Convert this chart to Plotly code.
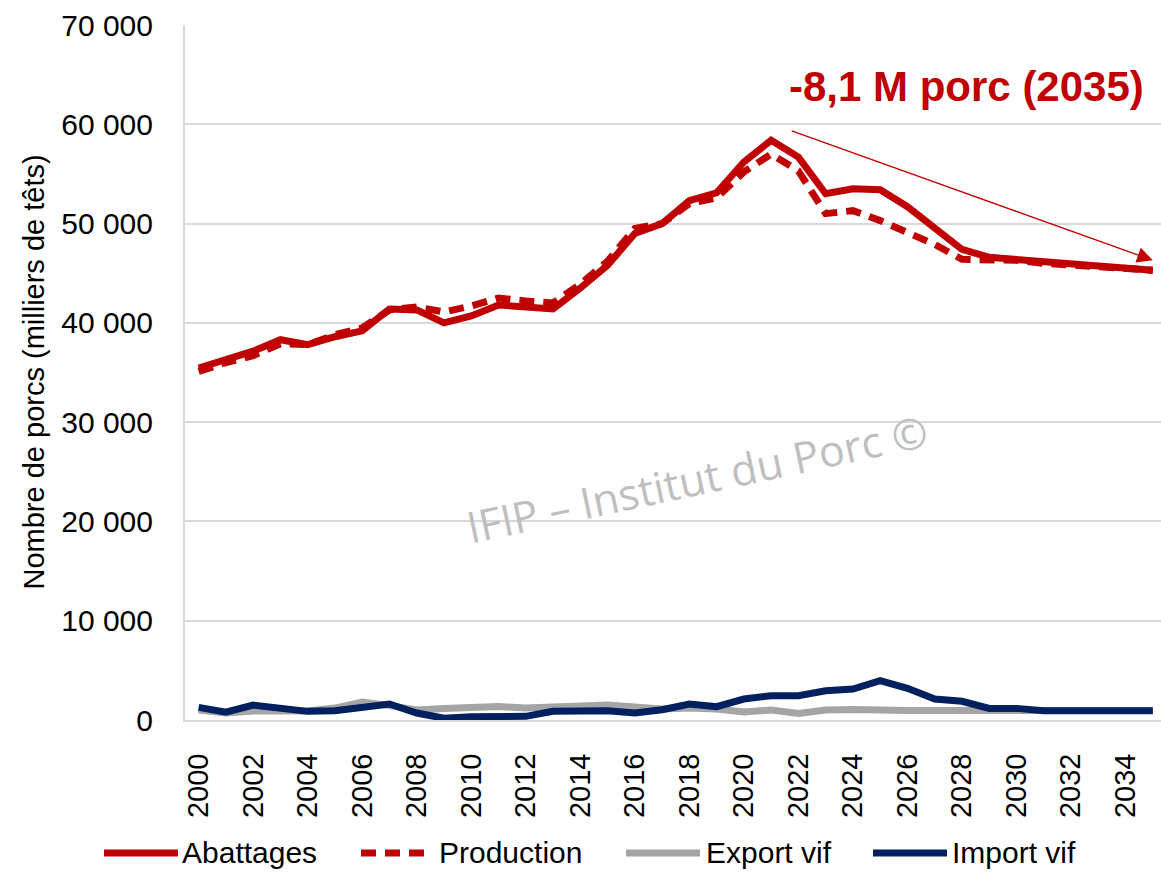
import plotly.graph_objects as go

# Years covered (history + projection)
years = list(range(2000, 2036))

# Pig slaughterings and production, thousand heads
abattages = [35450, 36300, 37150, 38300, 37800, 38600, 39200, 41400, 41300, 40000,
             40700, 41800, 41600, 41400, 43500, 45800, 49000, 50000, 52300, 53100,
             56200, 58400, 56700, 53000, 53500, 53400, 51700, 49600, 47400, 46600,
             46400, 46100, 45900, 45700, 45500, 45300]
production = [35100, 36000, 36700, 37900, 37800, 38800, 39500, 41300, 41600, 41100,
              41700, 42500, 42200, 42000, 43900, 46200, 49500, 50000, 52000, 52600,
              55200, 57000, 55300, 51000, 51300, 50300, 49100, 47900, 46400, 46300,
              46300, 46000, 45800, 45700, 45500, 45300]
# Live pig trade, thousand heads
export_vif = [1000, 700, 900, 900, 900, 1200, 1800, 1450, 1000, 1150,
              1300, 1350, 1200, 1250, 1400, 1500, 1300, 1100, 1200, 1100,
              800, 1000, 650, 1000, 1050, 950, 950, 950, 950, 950,
              950, 950, 950, 950, 950, 950]
import_vif = [1270, 780, 1500, 1170, 870, 940, 1270, 1610, 700, 170,
              330, 330, 370, 870, 940, 940, 700, 1040, 1610, 1340,
              2110, 2450, 2450, 2950, 3120, 3960, 3190, 2110, 1880, 1170,
              1170, 940, 940, 940, 940, 940]

series_names = ["Abattages", "Production", "Export vif", "Import vif"]
series_values = [abattages, production, export_vif, import_vif]
series_colors = ["#C00000", "#C00000", "#A5A5A5", "#002060"]
series_dash = ["solid", "15px,9px", "solid", "solid"]

y_ticks = list(range(0, 70001, 10000))
x_ticks = list(range(2000, 2035, 2))

SANS = "Liberation Sans, Arial, sans-serif"
LINE_W = 7

fig = go.Figure()
for name, vals, col, dash in zip(series_names, series_values, series_colors, series_dash):
    fig.add_trace(go.Scatter(
        x=years, y=vals, name=name, mode="lines",
        line=dict(color=col, width=LINE_W, dash=dash),
        showlegend=False, hoverinfo="x+y+name",
    ))

# Legend drawn as line samples + labels below the plot
legend_x = [(104, 178, 180), (361, 431, 437), (626, 700, 704), (873, 947, 950)]
plot_l, plot_r, plot_t, plot_b = 185, 1161, 25, 720
W, H = 1161, 872


def px_x(p):
    return (p - plot_l) / (plot_r - plot_l)


def px_y(p):
    return (plot_b - p) / (plot_b - plot_t)


legend_y = 853
shapes = []
annotations = []
for (x0, x1, xt), name, col, dash in zip(legend_x, series_names, series_colors, series_dash):
    shapes.append(dict(
        type="line", xref="paper", yref="paper",
        x0=px_x(x0), x1=px_x(x1), y0=px_y(legend_y), y1=px_y(legend_y),
        line=dict(color=col, width=LINE_W, dash=dash),
    ))
    annotations.append(dict(
        xref="paper", yref="paper", x=px_x(xt), y=px_y(legend_y),
        xanchor="left", yanchor="middle", text=name, showarrow=False,
        font=dict(family=SANS, size=30, color="#000000"),
    ))

# Headline and trend arrow
annotations.append(dict(
    xref="paper", yref="paper", x=px_x(1146), y=px_y(86),
    xanchor="right", yanchor="middle", text="<b>-8,1 M porc (2035)</b>",
    showarrow=False,
    font=dict(family=SANS, size=42, color="#C00000"),
))
arrow_tip = (2035.0, 46300)
arrow_tail = (2021.7, 59400)
annotations.append(dict(
    x=arrow_tip[0], y=arrow_tip[1], ax=arrow_tail[0], ay=arrow_tail[1],
    xref="x", yref="y", axref="x", ayref="y",
    showarrow=True, arrowhead=2, arrowsize=2.4, arrowwidth=1.3,
    arrowcolor="#C00000", text="",
))

# Watermark
annotations.append(dict(
    xref="paper", yref="paper", x=px_x(697), y=px_y(478),
    xanchor="center", yanchor="middle", text="IFIP – Institut du Porc ©",
    textangle=-12, showarrow=False,
    font=dict(family="Open Sans, sans-serif", size=43, color="#BFBFBF"),
))

# Y axis title
annotations.append(dict(
    xref="paper", yref="paper", x=px_x(33), y=0.5,
    xanchor="center", yanchor="middle", text="Nombre de porcs (milliers de têts)",
    textangle=-90, showarrow=False,
    font=dict(family=SANS, size=29, color="#000000"),
))

fig.update_layout(
    width=W, height=H,
    margin=dict(l=plot_l, r=W - plot_r, t=plot_t, b=H - plot_b, pad=0),
    paper_bgcolor="white", plot_bgcolor="white",
    separators=", ",
    shapes=shapes, annotations=annotations,
    showlegend=False,
    xaxis=dict(
        range=[1999.5, 2035.3], tickvals=x_ticks, ticktext=[str(v) for v in x_ticks],
        tickangle=-90, showgrid=False, zeroline=False,
        showline=True, linecolor="#D9D9D9", linewidth=2,
        ticks="", ticklabelstandoff=20,
        tickfont=dict(family=SANS, size=29, color="#000000"),
    ),
    yaxis=dict(
        range=[0, 70000], tickvals=y_ticks, tickformat=",.0f",
        showgrid=True, gridcolor="#D9D9D9", gridwidth=2,
        zeroline=False, showline=True, linecolor="#D9D9D9", linewidth=2,
        ticks="", ticklabelstandoff=24,
        tickfont=dict(family=SANS, size=30, color="#000000"),
    ),
)

fig.write_html("out.html")
